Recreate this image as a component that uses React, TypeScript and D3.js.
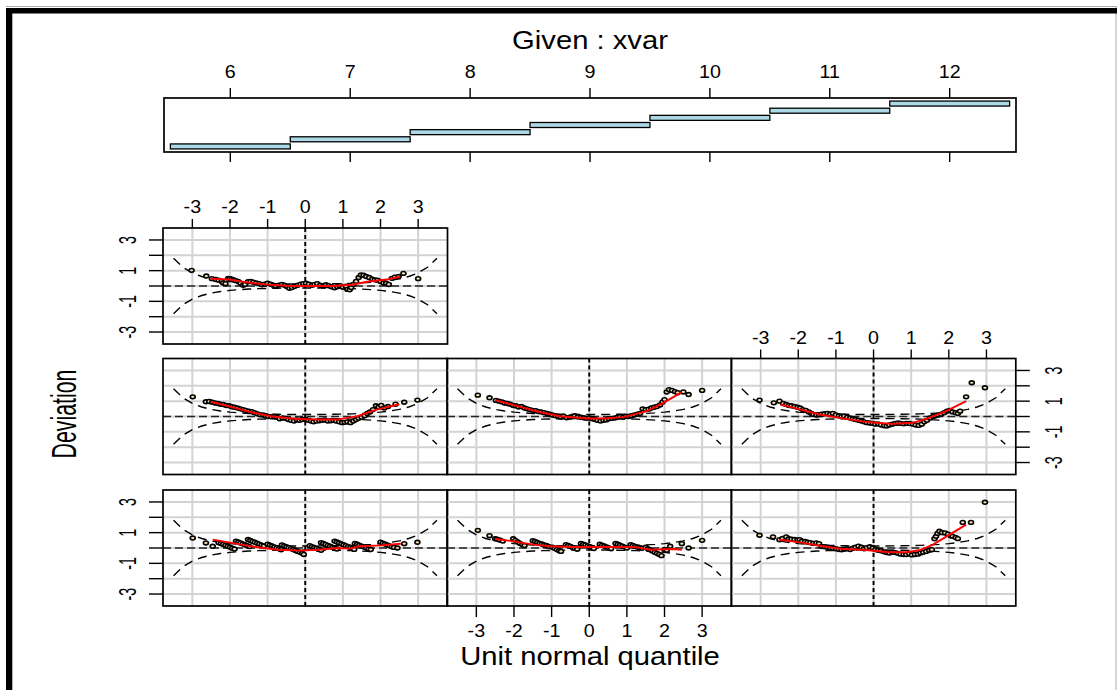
import React from "react";
import * as d3 from "d3";

// ---------- data ----------
const givenTicks = [6, 7, 8, 9, 10, 11, 12];
const givenIntervals: [number, number][] = [
  [5.5, 6.5], [6.5, 7.5], [7.5, 8.5], [8.5, 9.5], [9.5, 10.5], [10.5, 11.5], [11.5, 12.5],
];
const qTicks = [-3, -2, -1, 0, 1, 2, 3];
const devTicks = [-3, -2, -1, 0, 1, 2, 3];
const devLabels = [-3, -1, 1, 3];
const panelN = 360; // observations per panel (for the 95% bands)

// worm points: flat [q, deviation, q, deviation, ...]
const P12 = [
  -3.02, 1.02, -2.63, 0.65, -2.48, 0.48, -2.38, 0.42, -2.3, 0.38, -2.22, 0.3, -2.18, 0.2, -2.12, 0.15,
  -2.05, 0.5, -2.0, 0.48, -1.95, 0.45, -1.9, 0.4, -1.85, 0.35, -1.78, 0.3, -1.72, 0.18, -1.65, 0.05,
  -1.6, 0.1, -1.52, 0.28, -1.45, 0.3, -1.38, 0.25, -1.3, 0.2, -1.22, 0.15, -1.15, 0.08, -1.08, 0.12,
  -1.0, 0.18, -0.92, 0.12, -0.85, 0.05, -0.78, 0.0, -0.7, 0.06, -0.62, 0.1, -0.55, 0.05, -0.48, -0.05,
  -0.42, -0.15, -0.35, -0.1, -0.28, -0.02, -0.2, 0.05, -0.12, 0.12, -0.05, 0.15, 0.02, 0.18, 0.1, 0.12,
  0.18, 0.05, 0.25, 0.1, 0.32, 0.15, 0.4, 0.05, 0.48, 0.0, 0.55, 0.08, 0.62, 0.02, 0.7, -0.05,
  0.78, -0.12, 0.85, -0.05, 0.92, 0.02, 1.0, -0.08, 1.08, -0.02, 1.12, -0.22, 1.18, -0.25, 1.22, -0.1,
  1.28, 0.1, 1.35, 0.3, 1.42, 0.55, 1.48, 0.72, 1.55, 0.7, 1.62, 0.62, 1.7, 0.55, 1.78, 0.45,
  1.85, 0.4, 1.92, 0.38, 2.0, 0.3, 2.08, 0.2, 2.15, 0.18, 2.22, 0.1, 2.3, 0.5, 2.38, 0.58,
  2.48, 0.62, 2.61, 0.82, 3.0, 0.48,
];
const P9 = [
  -2.99, 1.28, -2.64, 0.96, -2.55, 0.98, -2.47, 0.93, -2.4, 0.88, -2.32, 0.85, -2.25, 0.8, -2.18, 0.78,
  -2.1, 0.72, -2.02, 0.7, -1.95, 0.64, -1.88, 0.6, -1.8, 0.55, -1.72, 0.5, -1.65, 0.45, -1.58, 0.4,
  -1.5, 0.35, -1.42, 0.32, -1.35, 0.25, -1.28, 0.18, -1.2, 0.12, -1.12, 0.1, -1.05, 0.05, -0.98, 0.0,
  -0.9, -0.02, -0.82, 0.0, -0.75, -0.05, -0.68, -0.15, -0.6, -0.1, -0.52, -0.12, -0.45, -0.2, -0.38, -0.25,
  -0.3, -0.3, -0.22, -0.22, -0.15, -0.25, -0.08, -0.2, 0.0, -0.18, 0.08, -0.25, 0.15, -0.3, 0.22, -0.35,
  0.3, -0.3, 0.38, -0.28, 0.45, -0.25, 0.52, -0.22, 0.6, -0.3, 0.68, -0.28, 0.75, -0.25, 0.82, -0.3,
  0.9, -0.35, 0.98, -0.4, 1.05, -0.38, 1.12, -0.35, 1.2, -0.4, 1.28, -0.3, 1.35, -0.2, 1.42, -0.12,
  1.5, -0.05, 1.58, 0.05, 1.65, 0.2, 1.72, 0.3, 1.8, 0.45, 1.88, 0.7, 1.95, 0.62, 2.02, 0.72,
  2.1, 0.55, 2.2, 0.65, 2.4, 0.8, 2.63, 0.93, 2.98, 1.07,
];
const P10 = [
  -2.96, 1.39, -2.65, 1.22, -2.48, 1.05, -2.4, 1.0, -2.32, 0.95, -2.25, 0.88, -2.18, 0.85, -2.1, 0.8,
  -2.02, 0.72, -1.95, 0.7, -1.88, 0.62, -1.8, 0.65, -1.72, 0.55, -1.65, 0.5, -1.58, 0.45, -1.5, 0.4,
  -1.42, 0.38, -1.35, 0.32, -1.28, 0.3, -1.2, 0.25, -1.12, 0.2, -1.05, 0.15, -0.98, 0.1, -0.9, 0.05,
  -0.82, 0.0, -0.75, -0.05, -0.68, 0.02, -0.6, -0.08, -0.52, -0.05, -0.45, 0.0, -0.38, 0.05, -0.3, -0.02,
  -0.22, -0.05, -0.15, -0.08, -0.08, -0.12, 0.0, -0.1, 0.08, -0.15, 0.15, -0.2, 0.22, -0.25, 0.3, -0.3,
  0.38, -0.25, 0.45, -0.22, 0.52, -0.15, 0.6, -0.12, 0.68, -0.1, 0.75, -0.05, 0.82, 0.0, 0.9, -0.05,
  0.98, 0.02, 1.05, 0.0, 1.12, 0.05, 1.2, 0.1, 1.28, 0.15, 1.35, 0.2, 1.42, 0.5, 1.5, 0.45,
  1.58, 0.48, 1.65, 0.55, 1.72, 0.6, 1.8, 0.65, 1.88, 0.75, 1.95, 0.95, 2.0, 1.1, 2.06, 1.6,
  2.12, 1.75, 2.2, 1.7, 2.28, 1.62, 2.35, 1.55, 2.5, 1.6, 2.64, 1.43, 3.0, 1.7,
];
const P11 = [
  -3.03, 1.07, -2.65, 0.89, -2.5, 1.0, -2.4, 0.85, -2.32, 0.78, -2.25, 0.72, -2.18, 0.7, -2.1, 0.65,
  -2.02, 0.6, -1.95, 0.55, -1.88, 0.45, -1.8, 0.4, -1.72, 0.3, -1.65, 0.2, -1.6, 0.13, -1.52, 0.1,
  -1.45, 0.12, -1.38, 0.15, -1.3, 0.18, -1.22, 0.2, -1.15, 0.15, -1.08, 0.2, -1.0, 0.1, -0.92, 0.05,
  -0.85, 0.0, -0.78, 0.02, -0.7, -0.05, -0.62, -0.1, -0.55, -0.15, -0.48, -0.2, -0.4, -0.25, -0.32, -0.3,
  -0.25, -0.35, -0.18, -0.4, -0.1, -0.42, -0.02, -0.45, 0.05, -0.5, 0.12, -0.48, 0.2, -0.55, 0.28, -0.6,
  0.35, -0.62, 0.42, -0.55, 0.5, -0.5, 0.58, -0.45, 0.65, -0.42, 0.72, -0.45, 0.8, -0.48, 0.88, -0.45,
  0.96, -0.46, 1.05, -0.5, 1.12, -0.55, 1.2, -0.58, 1.28, -0.5, 1.35, -0.35, 1.42, -0.25, 1.5, -0.1,
  1.58, 0.0, 1.65, 0.05, 1.72, 0.1, 1.8, 0.15, 1.88, 0.25, 1.95, 0.35, 2.02, 0.4, 2.1, 0.3,
  2.18, 0.25, 2.24, 0.2, 2.3, 0.35, 2.46, 1.28, 2.61, 2.2, 2.96, 1.87,
];
const P6 = [
  -2.99, 0.65, -2.64, 0.33, -2.46, 0.11,
  -2.3, 0.35, -2.24, 0.29, -2.18, 0.23, -2.12, 0.17, -2.06, 0.11, -2.0, 0.05, -1.94, -0.01, -1.88, -0.07,
  -1.84, 0.45, -1.78, 0.39, -1.72, 0.33, -1.66, 0.27, -1.6, 0.21, -1.54, 0.15, -1.48, 0.09,
  -1.52, 0.55, -1.46, 0.49, -1.4, 0.43, -1.34, 0.37, -1.28, 0.31, -1.22, 0.25, -1.16, 0.19, -1.1, 0.13,
  -1.0, 0.25, -0.94, 0.19, -0.88, 0.13, -0.82, 0.07, -0.76, 0.01, -0.7, -0.05, -0.64, -0.11,
  -0.62, 0.2, -0.56, 0.14, -0.5, 0.08, -0.44, 0.02, -0.38, -0.04, -0.32, -0.1, -0.26, -0.16, -0.2, -0.22,
  -0.14, -0.28, -0.08, -0.34, -0.04, -0.42,
  0.12, 0.15, 0.18, 0.09, 0.24, 0.03, 0.3, -0.03, 0.36, -0.09, 0.42, -0.15,
  0.42, 0.35, 0.48, 0.29, 0.54, 0.23, 0.6, 0.17, 0.66, 0.11, 0.72, 0.05, 0.78, -0.01, 0.84, -0.07,
  0.78, 0.45, 0.84, 0.39, 0.9, 0.33, 0.96, 0.27, 1.02, 0.21, 1.08, 0.15, 1.14, 0.09, 1.2, 0.03, 1.26, -0.03, 1.3, -0.09,
  1.32, 0.3, 1.38, 0.24, 1.44, 0.18, 1.5, 0.12, 1.56, 0.06, 1.62, 0.0, 1.68, -0.06, 1.74, -0.1,
  2.0, 0.38, 2.06, 0.32, 2.12, 0.26, 2.18, 0.2, 2.24, 0.14, 2.3, 0.08, 2.36, 0.04,
  2.45, 0.0, 2.63, 0.28, 2.98, 0.37,
];
const P7 = [
  -2.96, 1.15, -2.65, 0.8, -2.5, 0.6,
  -2.45, 0.58, -2.38, 0.52, -2.3, 0.45,
  -2.02, 0.6, -1.96, 0.5, -1.9, 0.4, -1.84, 0.3, -1.78, 0.22, -1.72, 0.16,
  -1.5, 0.48, -1.44, 0.42, -1.38, 0.36, -1.32, 0.3, -1.26, 0.26, -1.2, 0.2, -1.14, 0.16, -1.08, 0.1,
  -0.98, 0.05, -0.92, -0.02, -0.86, -0.1, -0.8, -0.18, -0.75, -0.22,
  -0.62, 0.22, -0.56, 0.16, -0.5, 0.1, -0.44, 0.04, -0.38, -0.02, -0.32, -0.08,
  -0.22, 0.3, -0.16, 0.24, -0.1, 0.2, -0.04, 0.14, 0.02, 0.08, 0.08, 0.02, 0.12, -0.04,
  0.28, 0.25, 0.34, 0.19, 0.4, 0.13, 0.46, 0.07, 0.52, 0.01, 0.58, -0.05,
  0.7, 0.3, 0.76, 0.24, 0.82, 0.18, 0.88, 0.12, 0.94, 0.06, 1.0, 0.0,
  1.1, 0.22, 1.16, 0.16, 1.22, 0.1, 1.28, 0.06, 1.34, 0.02, 1.4, -0.02,
  1.5, 0.05, 1.56, -0.05, 1.62, -0.12, 1.68, -0.2, 1.74, -0.28, 1.8, -0.35, 1.86, -0.42, 1.92, -0.5,
  2.0, -0.1, 2.06, -0.15, 2.15, 0.11,
  2.46, 0.28, 2.64, 0.0, 3.0, 0.5,
];
const P8 = [
  -3.03, 0.83, -2.67, 0.72, -2.5, 0.54, -2.42, 0.62, -2.32, 0.72, -2.25, 0.6, -2.18, 0.58, -2.1, 0.55,
  -2.02, 0.52, -1.96, 0.54, -1.9, 0.45, -1.82, 0.42, -1.75, 0.38, -1.68, 0.35, -1.6, 0.3, -1.52, 0.33,
  -1.45, 0.28, -1.38, 0.1, -1.3, 0.08, -1.22, 0.05, -1.15, 0.0, -1.08, -0.02, -1.0, -0.05, -0.92, -0.1,
  -0.85, -0.12, -0.78, -0.08, -0.7, -0.05, -0.62, -0.1, -0.55, -0.02, -0.48, 0.05, -0.4, 0.12, -0.32, 0.05,
  -0.25, -0.05, -0.18, 0.02, -0.1, 0.08, -0.02, 0.0, 0.05, -0.1, 0.12, -0.15, 0.2, -0.18, 0.28, -0.25,
  0.35, -0.3, 0.42, -0.33, 0.5, -0.28, 0.58, -0.3, 0.65, -0.35, 0.72, -0.4, 0.8, -0.42, 0.87, -0.43,
  0.95, -0.38, 1.02, -0.45, 1.1, -0.42, 1.18, -0.4, 1.25, -0.32, 1.32, -0.28, 1.4, -0.22, 1.48, -0.15,
  1.55, -0.11, 1.62, 0.6, 1.66, 0.76, 1.7, 0.95, 1.75, 1.09, 1.82, 1.0, 1.9, 0.98, 1.98, 0.9,
  2.05, 0.8, 2.1, 0.76, 2.18, 0.68, 2.24, 0.61, 2.37, 1.67, 2.59, 1.67, 2.96, 2.98,
];

// fitted (red) worm lines: flat [q, deviation, ...]
const F12 = [-2.52, 0.48, -2.03, 0.42, -1.55, 0.24, -1.02, 0.09, -0.49, 0.02, 0.0, 0.0, 0.75, 0.0, 1.28, 0.1, 1.64, 0.28, 2.17, 0.42, 2.52, 0.6];
const F9 = [-2.5, 0.96, -1.97, 0.63, -1.44, 0.28, -0.91, 0.02, -0.29, -0.15, 0.33, -0.2, 0.86, -0.2, 1.39, 0.02, 1.92, 0.46, 2.5, 0.8];
const F10 = [-2.5, 1.07, -1.83, 0.63, -1.3, 0.28, -0.77, 0.02, -0.06, -0.13, 0.38, -0.13, 0.91, -0.04, 1.53, 0.35, 1.97, 0.89, 2.46, 1.59];
const F11 = [-2.47, 0.78, -1.96, 0.46, -1.43, 0.13, -0.9, -0.09, -0.37, -0.3, 0.07, -0.41, 0.51, -0.48, 1.04, -0.41, 1.4, -0.15, 1.93, 0.35, 2.46, 1.0];
const F6 = [-2.46, 0.55, -1.88, 0.3, -1.44, 0.11, -0.73, -0.11, -0.12, -0.17, 0.33, -0.11, 0.86, 0.0, 1.21, -0.04, 1.39, 0.1, 2.0, 0.17, 2.54, 0.28];
const F7 = [-2.5, 0.59, -2.0, 0.43, -1.48, 0.22, -1.04, 0.11, -0.42, 0.07, 0.47, 0.07, 1.18, 0.07, 1.62, -0.11, 2.24, -0.07, 2.46, -0.11];
const F8 = [-2.5, 0.54, -1.96, 0.37, -1.43, 0.15, -0.81, -0.07, -0.28, -0.11, 0.34, -0.26, 0.87, -0.28, 1.22, -0.15, 1.58, 0.22, 2.02, 0.87, 2.46, 1.52];

// ---------- layout ----------
const W = 1117;
const H = 690;
const SX = 1.37; // horizontal stretch of the original device
const NARROW = 0.82; // narrow font of the original device
const FONT = '"Liberation Sans", Arial, Helvetica, sans-serif';
const colLeft = [163, 447, 731.3];
const colW = 284.5;
const rowTop = [228, 358.5, 490];
const rowH = 116;
const givenBox = { x0: 164, x1: 1016, y0: 98, y1: 152 };

type Axes = { top?: boolean; bottom?: boolean; left?: boolean; right?: boolean };
type PanelSpec = { id: string; row: number; col: number; pts: number[]; fit: number[]; axes: Axes };
const panels: PanelSpec[] = [
  { id: "p12", row: 0, col: 0, pts: P12, fit: F12, axes: { top: true, left: true } },
  { id: "p9", row: 1, col: 0, pts: P9, fit: F9, axes: {} },
  { id: "p10", row: 1, col: 1, pts: P10, fit: F10, axes: {} },
  { id: "p11", row: 1, col: 2, pts: P11, fit: F11, axes: { top: true, right: true } },
  { id: "p6", row: 2, col: 0, pts: P6, fit: F6, axes: { left: true } },
  { id: "p7", row: 2, col: 1, pts: P7, fit: F7, axes: { bottom: true } },
  { id: "p8", row: 2, col: 2, pts: P8, fit: F8, axes: {} },
];

function pairs(a: number[]): [number, number][] {
  const out: [number, number][] = [];
  for (let i = 0; i + 1 < a.length; i += 2) out.push([a[i], a[i + 1]]);
  return out;
}

// normal tail probability (Numerical Recipes erfc)
function upperTail(z: number): number {
  const x = Math.abs(z) / Math.SQRT2;
  const t = 1 / (1 + 0.5 * x);
  const e =
    t *
    Math.exp(
      -x * x - 1.26551223 + t * (1.00002368 + t * (0.37409196 + t * (0.09678418 + t * (-0.18628806 + t * (0.27886807 + t * (-1.13520398 + t * (1.48851587 + t * (-0.82215223 + t * 0.17087277))))))))
    );
  return 0.5 * e;
}
function dnorm(z: number) {
  return Math.exp(-0.5 * z * z) / Math.sqrt(2 * Math.PI);
}
const zSeq = d3.range(-3.5, 3.5001, 0.25);
function band(n: number): [number, number][] {
  return zSeq.map((z) => {
    const q = upperTail(z);
    const se = Math.sqrt((q * (1 - q)) / n) / dnorm(z);
    return [z, 1.959964 * se];
  });
}

function Txt(props: { x: number; y: number; size: number; children: React.ReactNode; rotate?: boolean }) {
  const { x, y, size, rotate } = props;
  const tr = rotate
    ? `translate(${x},${y}) scale(${SX},1) rotate(-90) scale(${NARROW},1)`
    : `translate(${x},${y}) scale(${SX * NARROW},1)`;
  return (
    <text transform={tr} fontFamily={FONT} fontSize={size} textAnchor="middle" dy="0.35em" fill="#000">
      {props.children}
    </text>
  );
}

const TICK_FS = 17.5;
const LAB_FS = 26;

function Panel({ spec }: { spec: PanelSpec }) {
  const p = spec;
  const x0 = colLeft[p.col];
  const x1 = x0 + colW;
  const y0 = rowTop[p.row];
  const y1 = y0 + rowH;
  const xs = d3.scaleLinear().domain([-3.78, 3.78]).range([x0, x1]);
  const ys = d3.scaleLinear().domain([-3.78, 3.78]).range([y1, y0]);
  const line = d3
    .line<[number, number]>()
    .x((d) => xs(d[0]))
    .y((d) => ys(d[1]));
  const b = band(panelN);
  const hi = b;
  const lo = b.map(([z, v]) => [z, -v] as [number, number]);
  const clipId = `clip-${p.id}`;
  const pts = pairs(p.pts);
  const fit = pairs(p.fit);
  const tk = 9;
  const tkh = 14;
  return (
    <g>
      <defs>
        <clipPath id={clipId}>
          <rect x={x0} y={y0} width={x1 - x0} height={y1 - y0} />
        </clipPath>
      </defs>
      <g clipPath={`url(#${clipId})`}>
        {qTicks.map((t) => (
          <line key={"gv" + t} x1={xs(t)} x2={xs(t)} y1={y0} y2={y1} stroke="#d3d3d3" strokeWidth={2} />
        ))}
        {devTicks.map((t) => (
          <line key={"gh" + t} x1={x0} x2={x1} y1={ys(t)} y2={ys(t)} stroke="#d3d3d3" strokeWidth={2} />
        ))}
        <line x1={x0} x2={x1} y1={ys(0)} y2={ys(0)} stroke="#222" strokeWidth={1.5} strokeDasharray="8,4" />
        <line x1={xs(0)} x2={xs(0)} y1={y0} y2={y1} stroke="#000" strokeWidth={1.9} strokeDasharray="4,3" />
        <path d={line(hi) || ""} fill="none" stroke="#000" strokeWidth={1.4} strokeDasharray="9,6" />
        <path d={line(lo) || ""} fill="none" stroke="#000" strokeWidth={1.4} strokeDasharray="9,6" />
        {pts.map((d, i) => (
          <ellipse key={i} cx={xs(d[0])} cy={ys(d[1])} rx={2.5} ry={1.9} fill="#F5DEB3" stroke="#000" strokeWidth={1.6} />
        ))}
        <path d={line(fit) || ""} fill="none" stroke="#ff0000" strokeWidth={1.9} />
      </g>
      <rect x={x0} y={y0} width={x1 - x0} height={y1 - y0} fill="none" stroke="#000" strokeWidth={1.7} />
      {p.axes.top && (
        <g>
          {qTicks.map((t) => (
            <g key={"tt" + t}>
              <line x1={xs(t)} x2={xs(t)} y1={y0} y2={y0 - tk} stroke="#000" strokeWidth={1.4} />
              <Txt x={xs(t)} y={y0 - 21} size={TICK_FS}>{String(t)}</Txt>
            </g>
          ))}
        </g>
      )}
      {p.axes.bottom && (
        <g>
          {qTicks.map((t) => (
            <g key={"bt" + t}>
              <line x1={xs(t)} x2={xs(t)} y1={y1} y2={y1 + tk + 2} stroke="#000" strokeWidth={1.4} />
              <Txt x={xs(t)} y={y1 + 25} size={TICK_FS}>{String(t)}</Txt>
            </g>
          ))}
        </g>
      )}
      {p.axes.left && (
        <g>
          {devTicks.map((t) => (
            <line key={"lt" + t} x1={x0} x2={x0 - tkh} y1={ys(t)} y2={ys(t)} stroke="#000" strokeWidth={1.4} />
          ))}
          {devLabels.map((t) => (
            <Txt key={"ll" + t} x={x0 - 35} y={ys(t)} size={TICK_FS} rotate>{String(t)}</Txt>
          ))}
        </g>
      )}
      {p.axes.right && (
        <g>
          {devTicks.map((t) => (
            <line key={"rt" + t} x1={x1} x2={x1 + tkh} y1={ys(t)} y2={ys(t)} stroke="#000" strokeWidth={1.4} />
          ))}
          {devLabels.map((t) => (
            <Txt key={"rl" + t} x={x1 + 38} y={ys(t)} size={TICK_FS} rotate>{String(t)}</Txt>
          ))}
        </g>
      )}
    </g>
  );
}

function GivenPanel() {
  const { x0, x1, y0, y1 } = givenBox;
  const lo = d3.min(givenIntervals, (d) => d[0]) as number;
  const hi = d3.max(givenIntervals, (d) => d[1]) as number;
  const span = hi - lo;
  const a = lo + 0.03 * span;
  const bnd = hi - 0.03 * span;
  const pad = 0.04 * (bnd - a);
  const xs = d3.scaleLinear().domain([a - pad, bnd + pad]).range([x0, x1]);
  const nint = givenIntervals.length;
  const ypad = 0.04 * nint;
  const ys = d3.scaleLinear().domain([0.5 - ypad, nint + 0.5 + ypad]).range([y1, y0]);
  return (
    <g>
      {givenIntervals.map((d, i) => (
        <rect
          key={i}
          x={xs(d[0])}
          y={ys(i + 1 + 0.35)}
          width={xs(d[1]) - xs(d[0])}
          height={ys(i + 1 - 0.35) - ys(i + 1 + 0.35)}
          fill="#ADD8E6"
          stroke="#000"
          strokeWidth={1.3}
        />
      ))}
      <rect x={x0} y={y0} width={x1 - x0} height={y1 - y0} fill="none" stroke="#000" strokeWidth={1.7} />
      {givenTicks.map((t) => (
        <g key={t}>
          <line x1={xs(t)} x2={xs(t)} y1={y0} y2={y0 - 10} stroke="#000" strokeWidth={1.4} />
          <line x1={xs(t)} x2={xs(t)} y1={y1} y2={y1 + 10} stroke="#000" strokeWidth={1.4} />
          <Txt x={xs(t)} y={72} size={TICK_FS}>{String(t)}</Txt>
        </g>
      ))}
    </g>
  );
}

export default function App() {
  return (
    <svg
      width={W}
      height={H}
      viewBox={`0 0 ${W} ${H}`}
      style={{ position: "absolute", left: 0, top: 0, background: "#fff" }}
    >
      <rect x={0} y={0} width={W} height={H} fill="#fff" />
      {/* outer frame */}
      <line x1={6} x2={W} y1={6.5} y2={6.5} stroke="#aaa" strokeWidth={1} />
      <line x1={W - 1} x2={W - 1} y1={6} y2={H} stroke="#aaa" strokeWidth={1} />
      <rect x={6} y={8} width={W - 6} height={5.5} fill="#000" />
      <rect x={6} y={8} width={6.3} height={H - 8} fill="#000" />

      <Txt x={590} y={40} size={LAB_FS}>Given : xvar</Txt>
      <GivenPanel />
      {panels.map((p) => (
        <Panel key={p.id} spec={p} />
      ))}
      <Txt x={590} y={656} size={LAB_FS}>Unit normal quantile</Txt>
      <Txt x={64} y={414} size={LAB_FS} rotate>Deviation</Txt>
    </svg>
  );
}
